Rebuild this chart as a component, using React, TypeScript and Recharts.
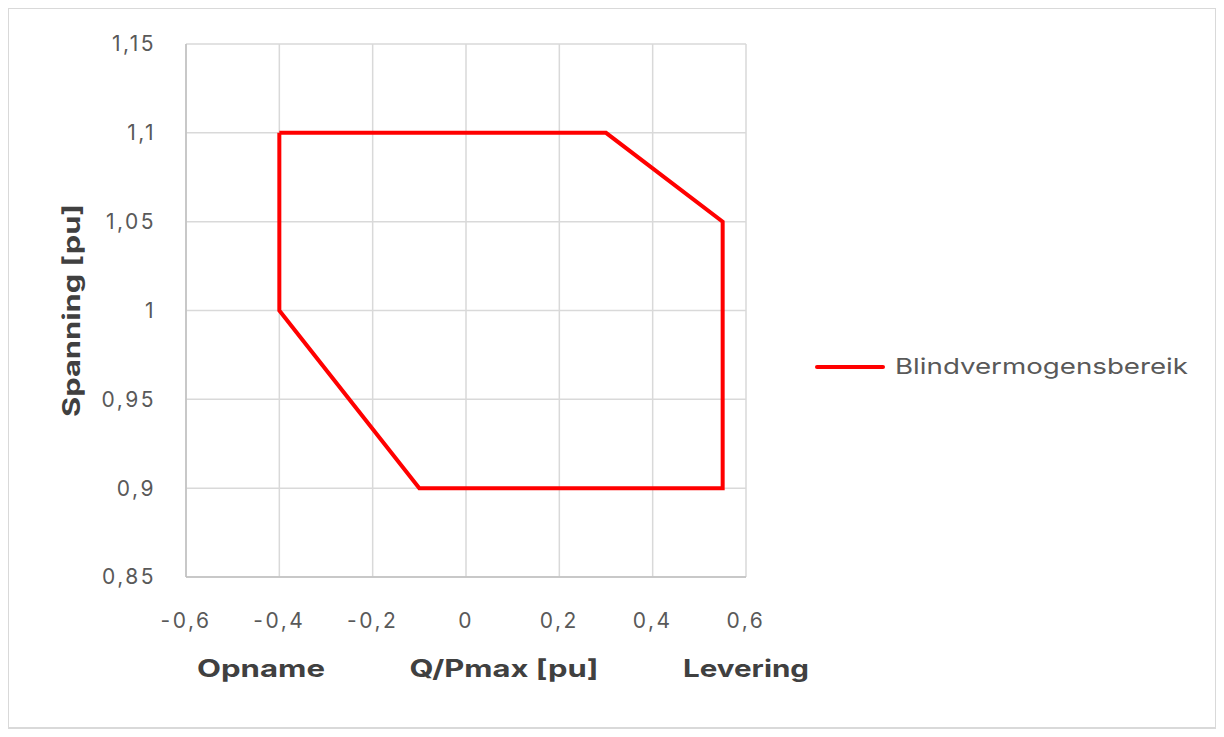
import { LineChart, Line, XAxis, YAxis, CartesianGrid, Legend } from "recharts";

const qValues = [-0.4, 0.3, 0.55, 0.55, -0.1, -0.4, -0.4];
const vValues = [1.1, 1.1, 1.05, 0.9, 0.9, 1.0, 1.1];
const xTicks = [-0.6, -0.4, -0.2, 0, 0.2, 0.4, 0.6];
const yTicks = [0.85, 0.9, 0.95, 1, 1.05, 1.1, 1.15];
const seriesName = "Blindvermogensbereik";

const data = qValues.map((q, i) => ({ q, v: vValues[i] }));

const FONT = "Inter, 'Open Sans', sans-serif";
const comma = (n: number) => String(Number(n.toFixed(2))).replace(".", ",");

const titleStyle = { fontFamily: FONT, fontSize: 24, fontWeight: 700, fill: "#404040" };
const tickStyle = { fontFamily: FONT, fontSize: 21, fill: "#595959", letterSpacing: 2.5 };

// the reference text is rendered wide, so the titles are stretched to its measured widths
const XTitles = (props: any) => {
  const { x, width } = props.viewBox;
  return (
    <g>
      <text x={x + 75} y={668} textAnchor="middle" textLength={128} lengthAdjust="spacingAndGlyphs" style={titleStyle}>Opname</text>
      <text x={x + 318} y={668} textAnchor="middle" textLength={189} lengthAdjust="spacingAndGlyphs" style={titleStyle}>Q/Pmax [pu]</text>
      <text x={x + width} y={668} textAnchor="middle" textLength={126} lengthAdjust="spacingAndGlyphs" style={titleStyle}>Levering</text>
    </g>
  );
};

const YTitle = (props: any) => {
  const { y, height } = props.viewBox;
  const cx = 62;
  const cy = y + height / 2;
  return (
    <text x={cx} y={cy} transform={`rotate(-90 ${cx} ${cy})`} textAnchor="middle" dominantBaseline="central" textLength={213} lengthAdjust="spacingAndGlyphs" style={titleStyle}>
      Spanning [pu]
    </text>
  );
};

const LegendContent = () => (
  <svg width={390} height={30}>
    <line x1={2} y1={15} x2={68} y2={15} stroke="#ff0000" strokeWidth={4} strokeLinecap="round" />
    <text x={80} y={22} textLength={293} lengthAdjust="spacingAndGlyphs" style={{ fontFamily: FONT, fontSize: 22, fill: "#595959" }}>
      {seriesName}
    </text>
  </svg>
);

export default function App() {
  return (
    <div style={{ width: 1210, height: 722, border: "2px solid #d9d9d9", boxSizing: "border-box", marginLeft: -1, marginTop: -1, background: "#fff" }}>
      <LineChart width={1206} height={718} data={data} margin={{ top: 35, right: 469, bottom: 140, left: 100 }}>
        <CartesianGrid stroke="#d9d9d9" strokeWidth={1.5} />
        <XAxis
          type="number"
          dataKey="q"
          domain={[-0.6, 0.6]}
          ticks={xTicks}
          tickFormatter={comma}
          tickLine={false}
          axisLine={{ stroke: "#bfbfbf", strokeWidth: 1.5 }}
          tick={tickStyle}
          tickMargin={30}
          height={10}
          label={<XTitles />}
        />
        <YAxis
          type="number"
          domain={[0.85, 1.15]}
          ticks={yTicks}
          tickFormatter={comma}
          tickLine={false}
          axisLine={{ stroke: "#bfbfbf", strokeWidth: 1.5 }}
          tick={tickStyle}
          tickMargin={24}
          width={77}
          label={<YTitle />}
        />
        <Line
          dataKey="v"
          name={seriesName}
          stroke="#ff0000"
          strokeWidth={4}
          dot={false}
          isAnimationActive={false}
          strokeLinejoin="miter"
        />
        <Legend
          layout="horizontal"
          verticalAlign="middle"
          align="center"
          content={<LegendContent />}
          wrapperStyle={{ left: 806, top: 343, width: 400 }}
        />
      </LineChart>
    </div>
  );
}
